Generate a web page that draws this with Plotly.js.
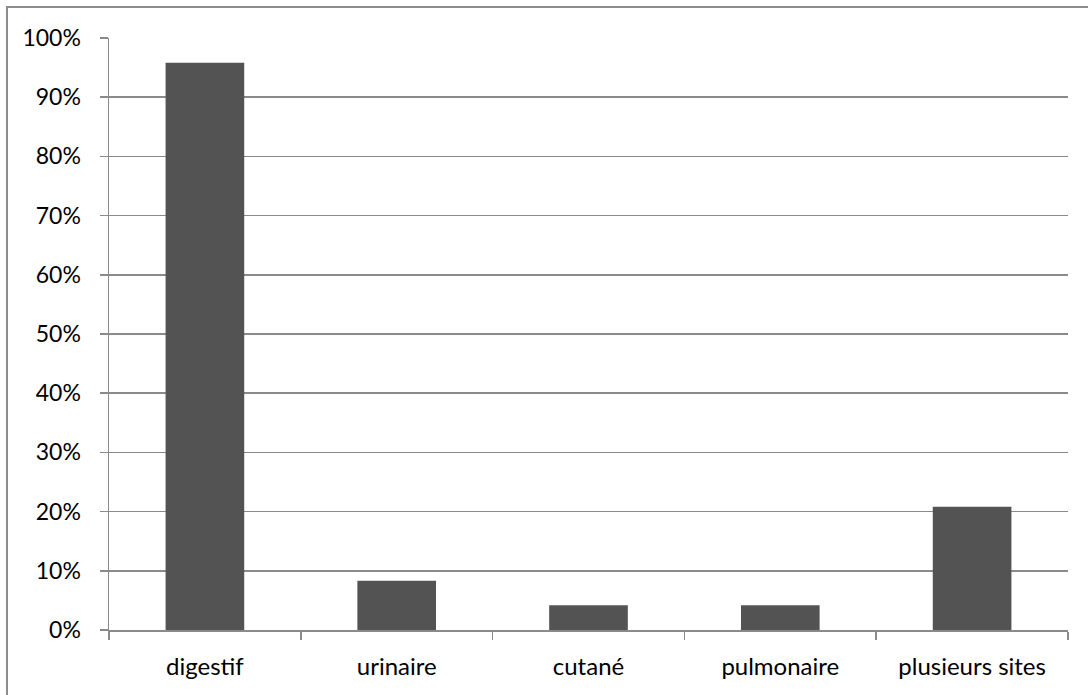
<!DOCTYPE html>
<html>
<head>
<meta charset="utf-8">
<script src="https://cdn.plot.ly/plotly-3.0.1.min.js"></script>
<style>
  html, body { margin: 0; padding: 0; background: #fff; overflow: hidden; }
  #chart { width: 1088px; height: 695px; position: absolute; left: 0; top: 0; }
  #frame { position: absolute; left: 6px; top: 6px; width: 1200px; height: 800px;
           border-left: 2px solid #8c8c8c; border-top: 2px solid #8c8c8c; pointer-events: none; }
</style>
</head>
<body>
<div id="chart"></div>
<div id="frame"></div>
<script>
const categories = ["digestif", "urinaire", "cutané", "pulmonaire", "plusieurs sites"];
const values = [0.958, 0.083, 0.042, 0.042, 0.208];
const yTickVals = [0, 0.1, 0.2, 0.3, 0.4, 0.5, 0.6, 0.7, 0.8, 0.9, 1.0];

const trace = {
  type: "bar",
  x: categories,
  y: values,
  width: 0.41,
  marker: { color: "#535353", line: { width: 0 } },
  hoverinfo: "x+y"
};

const layout = {
  width: 1088,
  height: 695,
  margin: { l: 109, r: 20, t: 38, b: 65, pad: 0 },
  paper_bgcolor: "#ffffff",
  plot_bgcolor: "#ffffff",
  showlegend: false,
  font: { family: "Lato, 'Open Sans', sans-serif", size: 23, color: "#000" },
  xaxis: {
    type: "category",
    showline: true, linecolor: "#8a8a8a", linewidth: 1.5,
    ticks: "outside", tickson: "boundaries", ticklen: 8, tickcolor: "#8a8a8a", tickwidth: 1.5,
    ticklabelstandoff: 15,
    showgrid: false, zeroline: false,
    tickfont: { size: 24 }
  },
  yaxis: {
    range: [0, 1],
    tickvals: yTickVals,
    tickformat: ".0%",
    showline: true, linecolor: "#8a8a8a", linewidth: 1.5,
    ticks: "outside", ticklen: 8, tickcolor: "#8a8a8a", tickwidth: 1.5,
    ticklabelstandoff: 14,
    showgrid: true, gridcolor: "#8a8a8a", gridwidth: 1.5,
    zeroline: false,
    tickfont: { size: 23 }
  },
  bargap: 0.59
};

Plotly.newPlot("chart", [trace], layout, { displayModeBar: false, staticPlot: true });
</script>
</body>
</html>
